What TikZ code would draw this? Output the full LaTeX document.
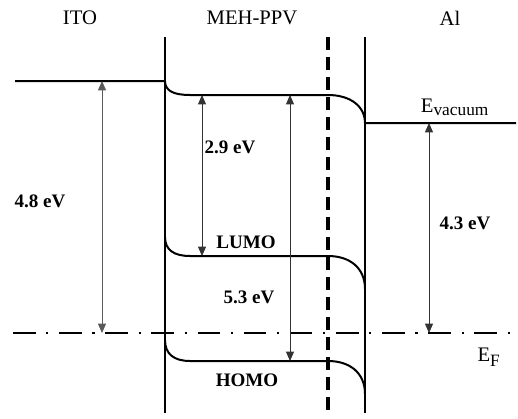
\documentclass[tikz,border=0pt]{standalone}
\usepackage{fontspec}
\setmainfont{Liberation Serif}
\usepackage{tikz}
\usetikzlibrary{arrows.meta}

\begin{document}
\begin{tikzpicture}[
    x=0.75pt, y=-0.75pt,
    title/.style={font=\fontsize{15.5}{18}\selectfont},
    energy/.style={font=\fontsize{14.3}{16}\selectfont\bfseries},
    level/.style={line width=1.5pt},
    wall/.style={line width=1.4pt},
    gap/.style={{Triangle[length=7pt,width=6pt]}-{Triangle[length=7pt,width=6pt]}, line width=0.6pt, draw=black!80},
    fermi/.style={line width=2.2pt, dash pattern=on 17pt off 8pt on 1.6pt off 8pt}
]
    \useasboundingbox (0,0) rectangle (518,418);

    % layer names
    \node[title] (ito) at (80,18) {ITO};
    \node[title] (meh) at (252,18) {MEH-PPV};
    \node[title] (al) at (450,18) {Al};

    % interfaces
    \coordinate (lefttop) at (165,37);
    \coordinate (leftbot) at (165,413);
    \coordinate (midtop) at (328,37);
    \coordinate (midbot) at (328,413);
    \coordinate (righttop) at (365,37);
    \coordinate (rightbot) at (365,413);
    \draw[wall] (lefttop) -- (leftbot);
    \draw[line width=0.9pt] (righttop) -- (rightbot);
    \draw[line width=2.8pt, dash pattern=on 10pt off 5pt] (midtop) -- (midbot);

    % vacuum level
    \coordinate (itolevel) at (15,81);
    \coordinate (itoedge) at (165,81);
    \coordinate (vacleft) at (190,95);
    \coordinate (vacright) at (328,95);
    \coordinate (aledge) at (365,123);
    \coordinate (allevel) at (516,123);
    \draw[level] (itolevel) -- (itoedge)
        .. controls (165,91) and (174,95) .. (vacleft) -- (vacright)
        .. controls (350,95) and (365,106) .. (aledge) -- (allevel);

    % LUMO
    \coordinate (lumoleft) at (190,256);
    \coordinate (lumoright) at (328,256);
    \draw[level] (165,237) .. controls (165,250) and (174,256) .. (lumoleft)
        -- (lumoright) .. controls (350,256) and (365,268) .. (365,289);

    % HOMO
    \coordinate (homoleft) at (190,361);
    \coordinate (homoright) at (328,361);
    \draw[level] (165,340) .. controls (165,354) and (174,361) .. (homoleft)
        -- (homoright) .. controls (350,361) and (365,373) .. (365,394);

    % Fermi level
    \coordinate (fermileft) at (13,333);
    \coordinate (fermiright) at (518,333);
    \draw[fermi] (fermileft) -- (fermiright);

    % energy gaps
    \coordinate (itotop) at (102,81);
    \coordinate (itobot) at (102,333);
    \coordinate (eatop) at (202,95);
    \coordinate (eabot) at (202,256);
    \coordinate (iptop) at (290,95);
    \coordinate (ipbot) at (290,361);
    \coordinate (altop) at (429,123);
    \coordinate (albot) at (429,333);
    \draw[gap, draw=black!65] (itotop) -- (itobot);
    \draw[gap] (eatop) -- (eabot);
    \draw[gap] (iptop) -- (ipbot);
    \draw[gap] (altop) -- (albot);

    % labels
    \node[energy] (itowork) at (40,201) {4.8 eV};
    \node[energy] (eagap) at (230,147) {2.9 eV};
    \node[energy] (lumo) at (246,242) {LUMO};
    \node[energy] (ipgap) at (249,297) {5.3 eV};
    \node[energy] (homo) at (247,380) {HOMO};
    \node[energy] (alwork) at (465,223) {4.3 eV};
    \node[title] (evac) at (455,107) {E\textsubscript{\fontsize{13}{15}\selectfont vacuum}};
    \node[title] (ef) at (489,357) {E\textsubscript{\fontsize{13}{15}\selectfont F}};
\end{tikzpicture}
\end{document}
